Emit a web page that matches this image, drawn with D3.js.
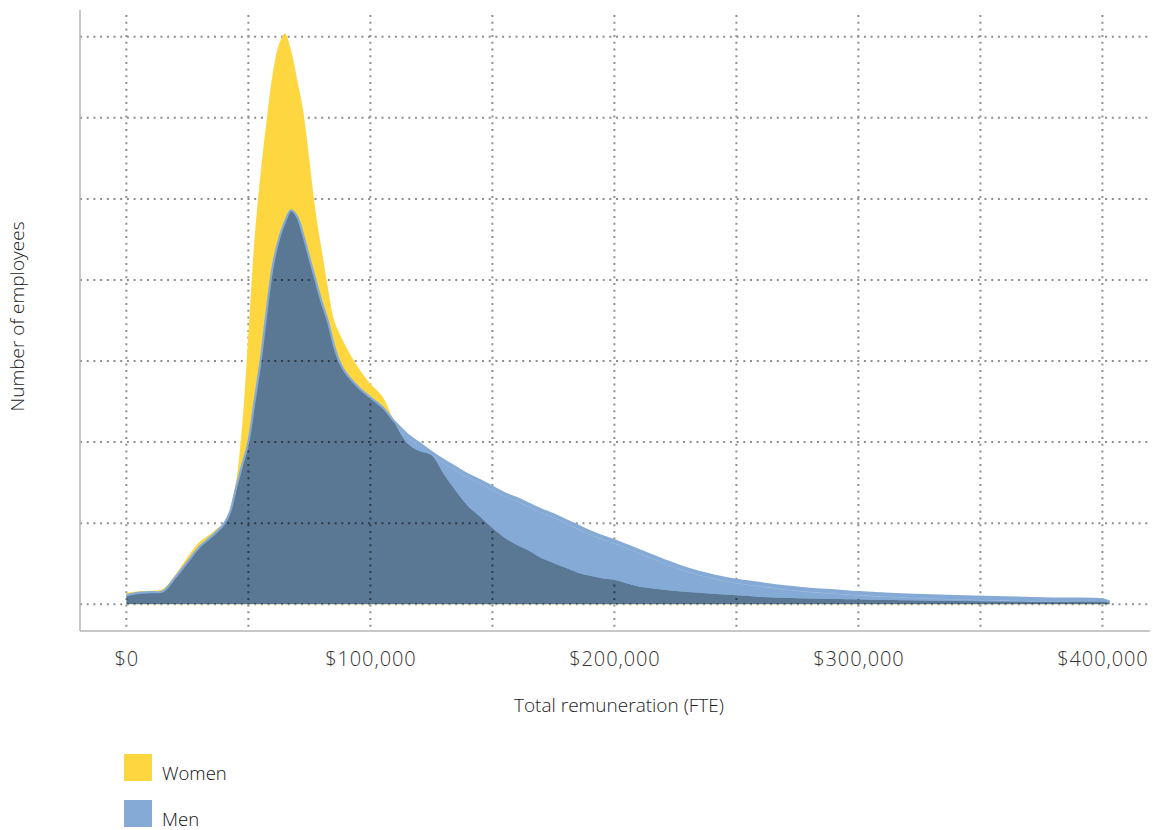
<!DOCTYPE html>
<html>
<head>
<meta charset="utf-8">
<script src="https://cdn.jsdelivr.net/npm/d3@7"></script>
<style>
  html, body { margin: 0; padding: 0; background: #fff; }
  svg { display: block; font-family: "Open Sans", "Noto Sans", sans-serif; }
</style>
</head>
<body>
<svg id="chart" width="1153" height="830"></svg>
<script>
// ---- data (salary in $, density in employees) ----
const salary = [0, 5000, 10000, 15000, 20000, 25000, 30000, 35000, 40000, 42500, 45000, 47500,
  50000, 52500, 55000, 57500, 60000, 62500, 65000, 67500, 70000, 72500, 75000, 77500, 80000,
  82500, 85000, 87500, 90000, 95000, 100000, 105000, 110000, 115000, 120000, 125000, 130000,
  135000, 140000, 145000, 150000, 155000, 160000, 165000, 170000, 175000, 180000, 185000,
  190000, 195000, 200000, 210000, 220000, 230000, 240000, 250000, 260000, 270000, 280000,
  290000, 300000, 320000, 340000, 360000, 380000, 400000, 403000];

const women = [14, 16, 16.5, 19, 36, 58, 77, 88, 101, 117, 152, 222,
  334, 450, 531, 597, 655, 690, 704, 683, 647, 608, 548, 485, 438,
  392, 352, 333, 318, 292, 272, 256, 224, 199, 189, 184, 161,
  140, 121, 108, 94, 82, 73, 66, 57, 51, 45, 39,
  35, 32, 30, 22, 18, 15, 13, 11, 9, 8, 7,
  6.5, 6, 5, 4, 3.5, 3, 3, 2];

const men = [11, 14, 15, 16, 33, 52, 71, 84, 99, 114, 144, 172,
  200, 250, 300, 362, 417, 450, 472, 486, 478, 455, 427, 400, 373,
  350, 320, 298, 285, 268, 255, 243, 225, 210, 199, 188, 178,
  169, 160, 153, 145, 137, 131, 124, 117, 111, 104, 97,
  90, 84, 79, 67, 55, 44, 36, 30, 26, 22, 19,
  17, 15, 12, 10, 8.5, 7, 6, 3];

const xTicks = [0, 100000, 200000, 300000, 400000];
const xGrid = [0, 50000, 100000, 150000, 200000, 250000, 300000, 350000, 400000];
const yGrid = [0, 100, 200, 300, 400, 500, 600, 700];
const seriesNames = ["Women", "Men"];
const seriesColors = ["#FED740", "#85AAD5"];
const overlapColor = "#5A7794";

// ---- scales ----
const svg = d3.select("#chart");
const x = d3.scaleLinear().domain([-19000, 419500]).range([80, 1150]);
const y = d3.scaleLinear().domain([-33, 733]).range([631, 10]);
const [xMin, xMax] = x.domain();
const [yMin, yMax] = y.domain();

const womenData = salary.map((s, i) => ({ s, v: women[i] }));
const menData = salary.map((s, i) => ({ s, v: men[i] }));

const curve = d3.curveCatmullRom.alpha(0.5);
const area = d3.area()
  .x(d => x(d.s)).y0(y(0)).y1(d => Math.min(y(0), y(d.v)))
  .curve(curve);
const line = d3.line()
  .x(d => x(d.s)).y(d => y(d.v))
  .curve(curve);

const defs = svg.append("defs");
defs.append("clipPath").attr("id", "clipWomen").append("path").attr("d", area(womenData));
defs.append("clipPath").attr("id", "clipMen").append("path").attr("d", area(menData));

function drawGrid(g, color) {
  g.selectAll("line.h").data(yGrid).join("line").attr("class", "h")
    .attr("x1", x(xMin)).attr("x2", x(xMax))
    .attr("y1", d => y(d)).attr("y2", d => y(d))
    .attr("stroke", color).attr("stroke-width", 2)
    .attr("stroke-dasharray", "2,4.7").attr("stroke-linecap", "butt");
  g.selectAll("line.v").data(xGrid).join("line").attr("class", "v")
    .attr("x1", d => x(d)).attr("x2", d => x(d))
    .attr("y1", y(yMax) + 5).attr("y2", y(yMin))
    .attr("stroke", color).attr("stroke-width", 2)
    .attr("stroke-dasharray", "2,4.7").attr("stroke-linecap", "butt");
}

// grid
drawGrid(svg.append("g"), "#8f8f8f");

// axes lines
svg.append("line")
  .attr("x1", x(xMin)).attr("x2", x(xMin))
  .attr("y1", y(yMax)).attr("y2", y(yMin))
  .attr("stroke", "#b5b5b5").attr("stroke-width", 1.5);
svg.append("line")
  .attr("x1", x(xMin)).attr("x2", x(xMax))
  .attr("y1", y(yMin)).attr("y2", y(yMin))
  .attr("stroke", "#b5b5b5").attr("stroke-width", 1.5);

// women area
svg.append("path").attr("d", area(womenData)).attr("fill", seriesColors[0]);
// men area
svg.append("path").attr("d", area(menData)).attr("fill", seriesColors[1]);
// faint light line inside the men band
svg.append("path").attr("d", line(menData))
  .attr("fill", "none").attr("stroke", "rgba(255,255,255,0.35)").attr("stroke-width", 0.8)
  .attr("transform", "translate(0,3)")
  .attr("clip-path", "url(#clipMen)");

// overlap region (women ∩ men)
const ov = svg.append("g").attr("clip-path", "url(#clipWomen)")
  .append("g").attr("clip-path", "url(#clipMen)");
ov.append("path").attr("d", area(womenData)).attr("fill", overlapColor);
drawGrid(ov.append("g"), "#2c3a49");

// men outline
svg.append("path").attr("d", line(menData))
  .attr("fill", "none").attr("stroke", seriesColors[1]).attr("stroke-width", 2.2);

// x axis labels
const xAxis = d3.axisBottom(x)
  .tickValues(xTicks)
  .tickSize(0)
  .tickPadding(21)
  .tickFormat(d => "$" + d3.format(",")(d));
const gx = svg.append("g").attr("transform", `translate(0,${y(yMin)})`).call(xAxis);
gx.select(".domain").remove();
gx.selectAll("text")
  .attr("font-family", "'Open Sans', 'Noto Sans', sans-serif")
  .attr("font-size", 20).attr("font-weight", 300).attr("fill", "#333").attr("letter-spacing", "0.9px");

// axis titles
svg.append("text")
  .attr("x", (x(xMin) + x(xMax)) / 2 + 4).attr("y", 712)
  .attr("text-anchor", "middle").attr("font-size", 19).attr("font-weight", 300).attr("fill", "#222")
  .text("Total remuneration (FTE)");
svg.append("text")
  .attr("transform", `translate(24, ${(y(yMin) + y(yMax)) / 2 - 4}) rotate(-90)`)
  .attr("text-anchor", "middle").attr("font-size", 19).attr("font-weight", 300).attr("fill", "#222")
  .text("Number of employees");

// legend
const legend = svg.append("g").attr("transform", "translate(124, 754)");
seriesNames.forEach((name, i) => {
  const g = legend.append("g").attr("transform", `translate(0, ${i * 46})`);
  g.append("rect").attr("width", 28).attr("height", 27).attr("fill", seriesColors[i]);
  g.append("text").attr("x", 38).attr("y", 26)
    .attr("font-size", 18.5).attr("font-weight", 300).attr("fill", "#111").text(name);
});
</script>
</body>
</html>
